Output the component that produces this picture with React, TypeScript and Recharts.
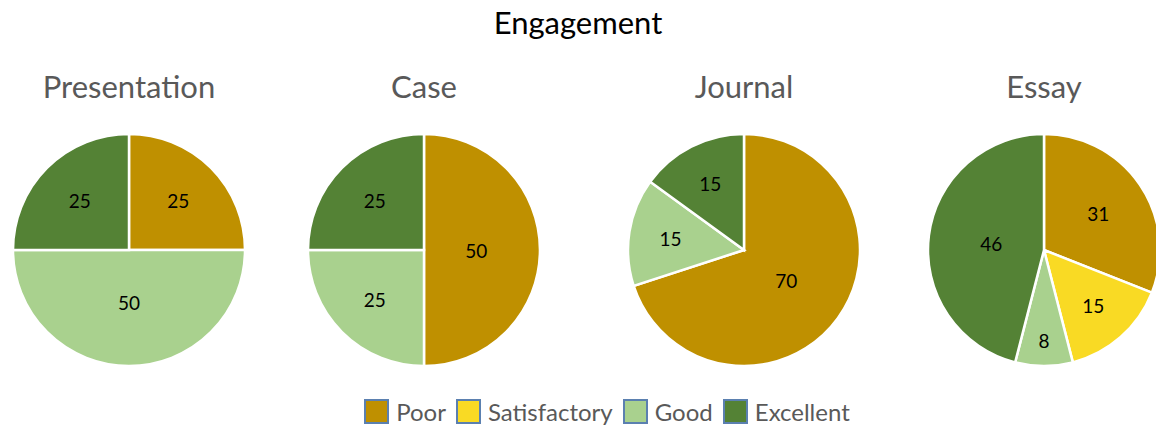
import React from "react";
import { PieChart, Pie, Cell, Legend } from "recharts";

const LEVELS = ["Poor", "Satisfactory", "Good", "Excellent"];
const COLORS = ["#BF9000", "#F9DA24", "#A9D18E", "#548235"];

const TASKS = ["Presentation", "Case", "Journal", "Essay"];
const PRESENTATION = [25, 0, 50, 25];
const CASE = [50, 0, 25, 25];
const JOURNAL = [70, 0, 15, 15];
const ESSAY = [31, 15, 8, 46];

const SERIES = [PRESENTATION, CASE, JOURNAL, ESSAY];
const CENTERS = [129, 424, 744, 1044];

const FONT = "Lato, 'Open Sans', sans-serif";
const RADIAN = Math.PI / 180;

const renderLabel = (props: any) => {
  const { cx, cy, midAngle, outerRadius, value, percent } = props;
  if (!value) return null;
  // put the label on the sector's centroid, kept away from the centre / edge
  const half = Math.PI * percent;
  let r = (2 * outerRadius * Math.sin(half)) / (3 * half);
  r = Math.max(r, outerRadius * 0.45);
  if (percent < 0.1) r = outerRadius * 0.78;
  const x = cx + r * Math.cos(-midAngle * RADIAN);
  const y = cy + r * Math.sin(-midAngle * RADIAN);
  return (
    <text
      x={x}
      y={y}
      fill="#000"
      textAnchor="middle"
      dominantBaseline="central"
      fontSize={19}
      fontFamily={FONT}
    >
      {value}
    </text>
  );
};

const renderLegend = () => (
  <div
    style={{
      display: "flex",
      justifyContent: "center",
      alignItems: "center",
      gap: 10,
      paddingLeft: 58,
      fontFamily: FONT,
      fontSize: 24,
      lineHeight: "24px",
      color: "#595959",
    }}
  >
    {LEVELS.map((l, i) => (
      <div key={l} style={{ display: "flex", alignItems: "center", gap: 7 }}>
        <span
          style={{
            width: 21,
            height: 21,
            background: COLORS[i],
            border: "2px solid #5B80B0",
            display: "inline-block",
          }}
        />
        <span>{l}</span>
      </div>
    ))}
  </div>
);

export default function App() {
  return (
    <div
      style={{
        position: "absolute",
        left: 0,
        top: 0,
        width: 1156,
        height: 427,
        background: "#fff",
        fontFamily: FONT,
        overflow: "hidden",
      }}
    >
      <div
        style={{
          position: "absolute",
          top: 7,
          width: 1156,
          textAlign: "center",
          fontSize: 31,
          lineHeight: "31px",
          color: "#000",
        }}
      >
        Engagement
      </div>
      {TASKS.map((t, i) => (
        <div
          key={t}
          style={{
            position: "absolute",
            top: 71,
            left: CENTERS[i] - 140,
            width: 280,
            textAlign: "center",
            fontSize: 31,
            lineHeight: "31px",
            color: "#595959",
          }}
        >
          {t}
        </div>
      ))}
      <PieChart
        width={1156}
        height={427}
        margin={{ top: 0, right: 0, bottom: 0, left: 0 }}
        style={{ position: "absolute", left: 0, top: 0 }}
      >
        {SERIES.map((vals, i) => (
          <Pie
            key={TASKS[i]}
            data={LEVELS.map((l, j) => ({ name: l, value: vals[j] }))}
            dataKey="value"
            nameKey="name"
            cx={CENTERS[i]}
            cy={250}
            outerRadius={116}
            startAngle={90}
            endAngle={-270}
            stroke="#fff"
            strokeWidth={2.5}
            labelLine={false}
            label={renderLabel}
            isAnimationActive={false}
          >
            {vals.map((_, j) => (
              <Cell key={j} fill={COLORS[j]} />
            ))}
          </Pie>
        ))}
        <Legend
          content={renderLegend}
          wrapperStyle={{ top: 399, left: 0, width: 1156 }}
        />
      </PieChart>
    </div>
  );
}
